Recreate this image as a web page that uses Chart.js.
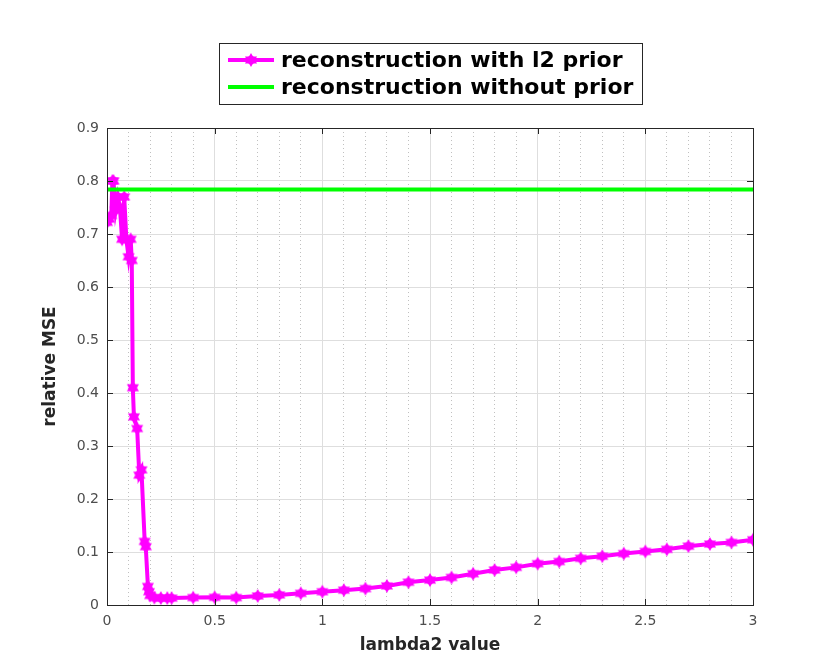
<!DOCTYPE html>
<html>
<head>
<meta charset="utf-8">
<script src="https://cdn.jsdelivr.net/npm/chart.js@4"></script>
<style>
  html, body { margin: 0; padding: 0; background: #fff; }
  #wrap { width: 830px; height: 670px; }
</style>
</head>
<body>
<div id="wrap"><canvas id="c" width="830" height="670"></canvas></div>
<script>
// lambda2 values and relative MSE
const lambdaValues = [
  0, 0.01, 0.02, 0.025, 0.03, 0.04, 0.05, 0.06, 0.07, 0.08, 0.09, 0.1, 0.11, 0.115,
  0.12, 0.125, 0.14, 0.15, 0.16, 0.175, 0.18, 0.19, 0.195, 0.2, 0.22, 0.25, 0.28, 0.3,
  0.4, 0.5, 0.6, 0.7, 0.8, 0.9, 1.0, 1.1, 1.2, 1.3, 1.4, 1.5, 1.6, 1.7, 1.8, 1.9,
  2.0, 2.1, 2.2, 2.3, 2.4, 2.5, 2.6, 2.7, 2.8, 2.9, 3.0
];
const mseWithPrior = [
  0.722, 0.728, 0.735, 0.800, 0.800, 0.745, 0.770, 0.750, 0.690, 0.770, 0.690, 0.657, 0.690, 0.650,
  0.410, 0.355, 0.333, 0.245, 0.255, 0.120, 0.110, 0.035, 0.025, 0.018, 0.014, 0.013, 0.013, 0.013,
  0.014, 0.0145, 0.014, 0.017, 0.019, 0.022, 0.025, 0.028, 0.031, 0.036, 0.043, 0.047, 0.052, 0.059,
  0.066, 0.071, 0.078, 0.082, 0.088, 0.092, 0.097, 0.101, 0.105, 0.111, 0.115, 0.118, 0.123
];
const noPriorRange = [0, 3];
const mseWithoutPrior = 0.784;

const xTickValues = [0, 0.5, 1, 1.5, 2, 2.5, 3];
const yTickValues = [0, 0.1, 0.2, 0.3, 0.4, 0.5, 0.6, 0.7, 0.8, 0.9];
const seriesNames = ['reconstruction with l2 prior', 'reconstruction without prior'];

const MAGENTA = '#ff00ff';
const GREEN = '#00ff00';
const AXIS = '#262626';

// six pointed star marker
function hexagram(r) {
  const cv = document.createElement('canvas');
  const s = Math.ceil(r * 2 + 2);
  cv.width = s; cv.height = s;
  const g = cv.getContext('2d');
  g.fillStyle = MAGENTA;
  const c = s / 2;
  [ -Math.PI / 2, Math.PI / 2 ].forEach(a0 => {
    g.beginPath();
    for (let i = 0; i < 3; i++) {
      const a = a0 + i * 2 * Math.PI / 3;
      const px = c + r * Math.cos(a), py = c + r * Math.sin(a);
      if (i === 0) g.moveTo(px, py); else g.lineTo(px, py);
    }
    g.closePath();
    g.fill();
  });
  g.beginPath();
  g.arc(c, c, r * 0.6, 0, Math.PI * 2);
  g.fill();
  return cv;
}
const marker = hexagram(7);

const framePlugin = {
  id: 'frame',
  beforeDraw(chart) {
    const { ctx } = chart;
    ctx.save();
    ctx.fillStyle = '#fff';
    ctx.fillRect(0, 0, chart.width, chart.height);
    ctx.restore();
  },
  afterDatasetsDraw(chart) {
    const { ctx, chartArea: a, scales } = chart;
    ctx.save();
    ctx.strokeStyle = AXIS;
    ctx.lineWidth = 1;
    ctx.strokeRect(Math.round(a.left) + 0.5, Math.round(a.top) + 0.5,
      Math.round(a.right - a.left), Math.round(a.bottom - a.top));
    // inward ticks
    ctx.beginPath();
    xTickValues.forEach(v => {
      const px = Math.round(scales.x.getPixelForValue(v)) + 0.5;
      ctx.moveTo(px, a.bottom); ctx.lineTo(px, a.bottom - 6);
      ctx.moveTo(px, a.top); ctx.lineTo(px, a.top + 6);
    });
    yTickValues.forEach(v => {
      const py = Math.round(scales.y.getPixelForValue(v)) + 0.5;
      ctx.moveTo(a.left, py); ctx.lineTo(a.left + 6, py);
      ctx.moveTo(a.right, py); ctx.lineTo(a.right - 6, py);
    });
    ctx.stroke();

    // legend box
    const bx = 219.5, by = 43.5, bw = 423, bh = 61;
    ctx.fillStyle = '#fff';
    ctx.fillRect(bx, by, bw, bh);
    ctx.strokeStyle = AXIS;
    ctx.strokeRect(bx, by, bw, bh);
    const rows = [
      { y: 60, color: MAGENTA, mark: true },
      { y: 87, color: GREEN, mark: false }
    ];
    ctx.font = 'bold 22px "DejaVu Sans"';
    ctx.textBaseline = 'middle';
    ctx.textAlign = 'left';
    rows.forEach((r, i) => {
      ctx.strokeStyle = r.color;
      ctx.lineWidth = 4;
      ctx.beginPath();
      ctx.moveTo(228, r.y); ctx.lineTo(274, r.y);
      ctx.stroke();
      if (r.mark) ctx.drawImage(marker, 251 - marker.width / 2, r.y - marker.height / 2);
      ctx.fillStyle = '#000';
      ctx.fillText(seriesNames[i], 281, r.y + 1);
    });
    ctx.restore();
  }
};

new Chart(document.getElementById('c'), {
  type: 'line',
  data: {
    datasets: [{
      label: seriesNames[0],
      data: lambdaValues.map((x, i) => ({ x: x, y: mseWithPrior[i] })),
      borderColor: MAGENTA,
      backgroundColor: MAGENTA,
      borderWidth: 4,
      pointStyle: marker,
      pointRadius: 6,
      tension: 0,
      order: 2
    }, {
      label: seriesNames[1],
      data: noPriorRange.map(x => ({ x: x, y: mseWithoutPrior })),
      borderColor: GREEN,
      backgroundColor: GREEN,
      borderWidth: 4,
      pointRadius: 0,
      order: 1
    }]
  },
  options: {
    responsive: false,
    animation: false,
    layout: { padding: { top: 128, right: 77, left: 0, bottom: 0 } },
    plugins: {
      legend: { display: false },
      tooltip: { enabled: false }
    },
    scales: {
      xMinor: {
        type: 'linear',
        position: 'bottom',
        min: 0, max: 3,
        afterBuildTicks: s => { s.ticks = Array.from({ length: 31 }, (_, i) => ({ value: i / 10 })); },
        afterFit: s => { s.height = 0; },
        ticks: { display: false },
        border: { display: false, dash: [1, 3] },
        grid: {
          drawTicks: false,
          color: c => (Math.round(c.tick.value * 10) % 5 === 0) ? 'rgba(0,0,0,0)' : '#c0c0c0'
        }
      },
      x: {
        type: 'linear',
        min: 0, max: 3,
        afterBuildTicks: s => { s.ticks = xTickValues.map(v => ({ value: v })); },
        afterFit: s => { s.height = 65; },
        border: { display: false },
        grid: { color: '#dedede', drawTicks: false },
        ticks: {
          padding: 8,
          color: '#4d4d4d',
          font: { family: 'DejaVu Sans', size: 14 },
          maxRotation: 0,
          callback: v => String(v)
        },
        title: {
          display: true,
          text: 'lambda2 value',
          color: AXIS,
          font: { family: 'DejaVu Sans', size: 17, weight: 'bold' },
          padding: { top: 2, bottom: 14 }
        }
      },
      y: {
        type: 'linear',
        min: 0, max: 0.9,
        afterBuildTicks: s => { s.ticks = yTickValues.map(v => ({ value: v })); },
        afterFit: s => { s.width = 107; },
        border: { display: false },
        grid: { color: '#dedede', drawTicks: false },
        ticks: {
          padding: 8,
          color: '#4d4d4d',
          font: { family: 'DejaVu Sans', size: 14 },
          callback: v => String(v)
        },
        title: {
          display: true,
          text: 'relative MSE',
          color: AXIS,
          font: { family: 'DejaVu Sans', size: 17, weight: 'bold' },
          padding: { top: 40, bottom: 0 }
        }
      }
    }
  },
  plugins: [framePlugin]
});
</script>
</body>
</html>
